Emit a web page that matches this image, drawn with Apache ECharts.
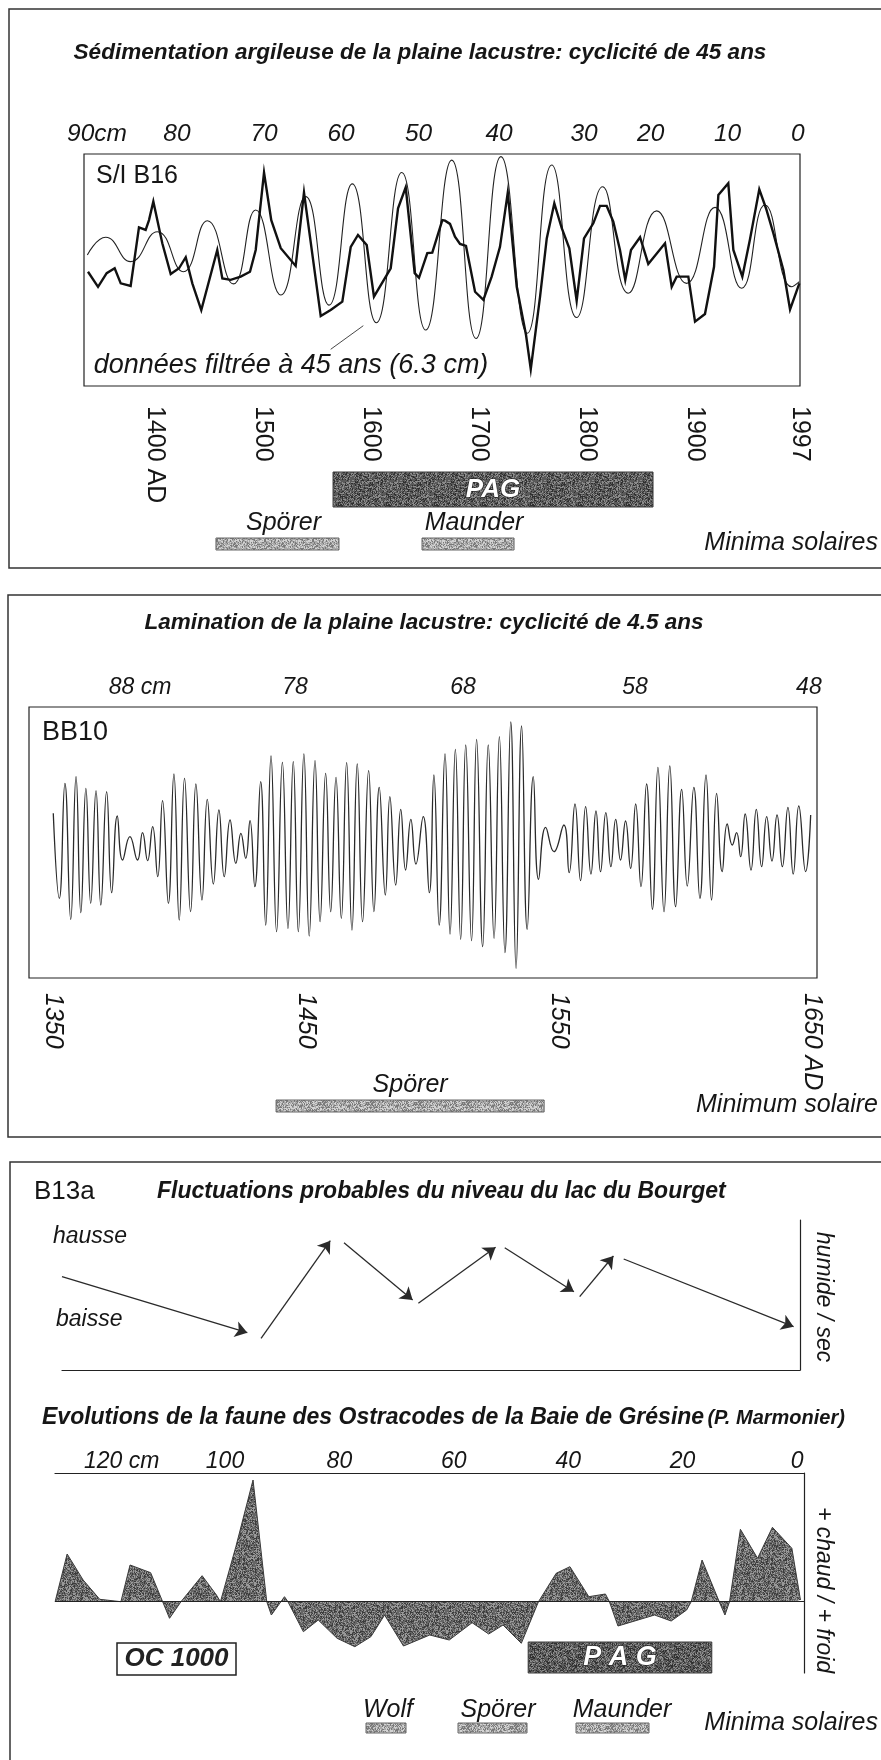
<!DOCTYPE html>
<html>
<head>
<meta charset="utf-8">
<script src="https://cdn.jsdelivr.net/npm/echarts@6/dist/echarts.min.js"></script>
<style>
  html, body { margin: 0; padding: 0; background: #fff; }
  #chart { width: 881px; height: 1760px; }
</style>
</head>
<body>
<div id="chart"></div>
<script>
// ---------- Panel 1 : S/I B16, clay sedimentation (years AD, standardised index) ----------
const b16Raw = [[1337.7,-0.06],[1347.0,-0.58],[1355.0,-0.11],[1362.4,0.06],[1368.0,-0.46],[1377.2,-0.55],[1384.9,1.47],[1391.1,1.38],[1394.2,1.72],[1398.2,2.36],[1406.5,0.92],[1414.3,-0.14],[1422.0,0.06],[1428.2,0.44],[1434.3,-0.46],[1442.6,-1.38],[1457.4,0.69],[1462.1,-0.29],[1469.8,-0.34],[1479.1,-0.23],[1487.7,-0.06],[1493.0,0.69],[1500.7,3.36],[1507.4,1.72],[1516.2,0.75],[1530.0,0.14],[1537.7,2.67],[1553.2,-1.59],[1562.4,-1.38],[1573.2,-1.09],[1581.0,0.80],[1587.7,1.21],[1595.8,0.86],[1602.5,-0.92],[1618.0,0.06],[1624.8,2.13],[1631.9,2.85],[1640.2,-0.11],[1644.2,-0.27],[1651.9,0.58],[1656.5,0.60],[1665.8,1.72],[1668.3,1.70],[1672.9,1.59],[1677.5,1.15],[1682.2,0.90],[1687.7,0.83],[1696.1,-0.75],[1703.8,-1.03],[1711.5,-0.23],[1719.2,0.80],[1726.4,2.67],[1734.7,-0.58],[1743.3,-2.24],[1747.7,-3.42],[1756.3,-0.92],[1762.5,1.09],[1769.5,2.30],[1776.4,1.44],[1783.4,0.75],[1790.2,-1.06],[1797.0,1.09],[1805.6,1.61],[1811.8,2.21],[1818.0,2.21],[1824.1,1.67],[1830.3,0.69],[1835.2,-0.34],[1840.5,0.69],[1848.9,1.13],[1856.5,0.21],[1872.0,0.92],[1878.2,-0.58],[1882.8,-0.23],[1893.6,-0.23],[1899.8,-1.78],[1909.0,-1.52],[1917.4,0.11],[1921.4,2.59],[1930.6,2.99],[1935.3,0.69],[1943.6,-0.23],[1950.7,1.06],[1959.3,2.78],[1965.5,2.13],[1972.3,1.27],[1981.6,0.00],[1987.8,-1.36],[1996.4,-0.46]];
// 45-year band-pass of the same record (turning points)
const b16Filtered = [[1337.1,0.52],[1354.1,1.13],[1377.2,0.29],[1401.9,1.32],[1425.9,-0.06],[1448.2,1.70],[1472.3,-0.48],[1493.0,2.07],[1516.2,-0.86],[1539.3,2.53],[1560.9,-1.21],[1582.4,2.97],[1604.7,-1.82],[1628.2,3.36],[1650.4,-2.07],[1674.5,3.79],[1697.0,-2.36],[1720.1,3.91],[1744.5,-2.18],[1767.1,3.62],[1790.2,-1.64],[1814.3,2.87],[1838.0,-0.80],[1864.3,2.04],[1892.0,-0.46],[1918.3,2.16],[1943.0,-0.63],[1964.6,2.24],[1989.3,-0.58],[1996.4,-0.40]];
const yearTicks1 = [1400, 1500, 1600, 1700, 1800, 1900, 1997];
const depthLabels1 = ['90cm', '80', '70', '60', '50', '40', '30', '20', '10', '0'];
const depthAges1 = [1346.0, 1420.1, 1500.7, 1572.0, 1643.8, 1718.3, 1797.0, 1858.7, 1929.9, 1995.0];
const pag1 = [1564.6, 1860.9];
const minima1 = [['Spörer', 1456.2, 1570.1], ['Maunder', 1647.0, 1732.2]];

// ---------- Panel 2 : BB10 lamination, 4.5-year band ----------
const bb10 = [[1350.0,2.67],[1352.4,-5.83],[1354.6,5.67],[1356.9,-7.93],[1359.0,6.33],[1360.9,-7.27],[1362.9,5.17],[1364.8,-6.33],[1366.9,4.93],[1368.8,-6.50],[1371.1,4.83],[1373.1,-5.27],[1375.3,2.40],[1377.4,-2.00],[1380.3,0.33],[1383.3,-2.00],[1385.3,0.73],[1387.3,-2.07],[1389.3,1.33],[1391.3,-3.67],[1393.2,3.93],[1395.5,-6.33],[1397.7,6.60],[1399.8,-8.00],[1401.9,6.17],[1404.3,-7.17],[1406.4,5.60],[1408.8,-6.00],[1410.9,4.07],[1413.3,-4.40],[1415.5,3.00],[1417.6,-3.67],[1419.9,2.00],[1422.2,-2.33],[1424.2,0.67],[1426.1,-1.83],[1427.8,1.93],[1429.7,-4.67],[1432.0,5.83],[1434.0,-8.50],[1436.1,8.40],[1438.3,-9.17],[1440.6,7.77],[1442.8,-8.83],[1444.9,7.83],[1446.9,-9.17],[1449.1,8.60],[1451.2,-9.60],[1453.5,7.93],[1455.5,-8.17],[1457.7,6.67],[1459.7,-7.17],[1461.8,6.27],[1463.9,-7.83],[1466.0,7.73],[1468.1,-9.00],[1470.2,7.60],[1472.3,-8.17],[1474.7,6.93],[1476.8,-7.17],[1478.9,5.27],[1481.3,-5.50],[1483.1,4.33],[1485.4,-4.50],[1487.4,3.07],[1489.3,-3.00],[1491.4,2.07],[1493.4,-2.40],[1496.3,2.33],[1498.7,-5.27],[1500.5,6.50],[1502.6,-8.50],[1504.9,8.60],[1506.9,-9.40],[1509.0,9.07],[1511.1,-9.93],[1513.1,9.50],[1515.4,-10.07],[1517.4,10.07],[1519.8,-10.67],[1522.0,9.50],[1524.3,-9.83],[1526.4,10.33],[1528.6,-11.27],[1530.9,11.80],[1533.0,-12.83],[1535.2,11.40],[1537.4,-8.93],[1539.8,6.33],[1541.9,-3.93],[1544.7,1.27],[1548.0,-1.17],[1551.9,1.50],[1554.0,-3.27],[1556.3,3.60],[1558.5,-4.07],[1560.5,3.33],[1562.6,-3.40],[1564.6,2.90],[1566.4,-3.17],[1568.5,2.73],[1570.5,-2.67],[1572.4,2.07],[1574.3,-2.00],[1576.3,1.90],[1578.3,-2.83],[1580.3,3.60],[1582.4,-4.67],[1584.6,5.60],[1586.9,-6.93],[1589.1,7.27],[1591.5,-7.17],[1593.8,7.40],[1596.1,-6.67],[1598.5,5.07],[1600.7,-4.60],[1603.3,5.27],[1605.7,-5.83],[1608.1,6.50],[1610.3,-6.00],[1612.3,4.67],[1614.5,-3.17],[1616.5,1.60],[1618.5,-0.50],[1620.2,0.73],[1621.8,-1.67],[1623.6,2.60],[1625.9,-3.00],[1628.0,3.07],[1630.1,-2.67],[1632.1,2.33],[1634.2,-2.10],[1636.2,2.50],[1638.3,-2.67],[1640.5,3.27],[1642.6,-3.40],[1644.8,3.40],[1647.5,-3.17],[1649.5,2.50]];
const yearTicks2 = [1350, 1450, 1550, 1650];
const depthLabels2 = ['88 cm', '78', '68', '58', '48'];
const depthAges2 = [1384.3, 1445.6, 1512.0, 1580.0, 1648.8];
const minima2 = [['Spörer', 1438.1, 1544.1]];

// ---------- Panel 3 : B13a, lake level and ostracod fauna (depth in cm) ----------
// each step: [depth from, level from, depth to, level to]
const lakeSteps = [[128.5,9.33,96.1,3.73],[93.7,3.17,81.6,12.93],[79.2,12.73,67.2,7.0],[66.2,6.67,52.7,12.27],[51.1,12.23,39.0,7.83],[38.0,7.33,32.1,11.4],[30.3,11.1,0.6,4.33]];
const ostracodes = [[129.7,0],[127.6,4.77],[124.8,2.17],[121.9,0.24],[118.2,0],[116.6,3.67],[113.0,2.90],[110.9,0],[109.7,-1.66],[107.7,0],[104.0,2.60],[101.5,0.67],[100.8,0],[98.1,5.50],[95.1,12.17],[92.7,0],[91.9,-1.33],[89.6,0.50],[89.0,0],[86.3,-3.00],[83.7,-1.83],[80.4,-3.66],[77.3,-4.50],[74.5,-3.50],[72.1,-1.33],[68.8,-4.43],[64.2,-3.33],[60.8,-3.83],[56.8,-2.10],[53.9,-3.23],[51.4,-2.33],[48.2,-4.16],[45.2,0],[42.1,2.84],[39.7,3.50],[36.4,0.50],[33.5,0.77],[32.8,0],[31.3,-2.43],[24.9,-1.33],[22.0,-1.93],[19.3,-0.83],[18.5,0],[16.6,4.17],[13.6,0],[12.6,-1.33],[11.8,0],[9.9,7.24],[6.9,4.34],[4.3,7.44],[0.9,5.34],[-0.6,0.17]];
const depthTicks3 = [120, 100, 80, 60, 40, 20, 0];
const pag3 = [47.0, 14.9];

// ---------- drawing ----------
const FF = "'Liberation Sans', Arial, sans-serif";
const INK = '#161616';

function frac(v) { return v - Math.floor(v); }
// small grain texture for the shaded bars and the area fill
function grain(base, lite, dark, pl, pd, seed) {
  const c = document.createElement('canvas');
  c.width = c.height = 48;
  const g = c.getContext('2d');
  g.fillStyle = base; g.fillRect(0, 0, 48, 48);
  for (let j = 0; j < 48; j++) for (let i = 0; i < 48; i++) {
    const h = frac(Math.sin(i * 127.1 + j * 311.7 + seed * 17.3) * 43758.5453);
    if (h < pl) { g.fillStyle = lite; g.fillRect(i, j, 1, 1); }
    else if (h > 1 - pd) { g.fillStyle = dark; g.fillRect(i, j, 1, 1); }
  }
  return { image: c, repeat: 'repeat' };
}
const darkGrain = grain('#5a5a5a', '#8c8c8c', '#303030', 0.28, 0.24, 1);
const lightGrain = grain('#a9a9a9', '#d2d2d2', '#7a7a7a', 0.3, 0.3, 2);
const areaGrain = grain('#666', '#999', '#3c3c3c', 0.28, 0.24, 3);

function pickLabel(list, ages) {
  return function (v) {
    for (let i = 0; i < ages.length; i++) if (Math.abs(ages[i] - v) < 1e-6) return list[i];
    return '';
  };
}

function hidden(gridIndex, min, max, extra) {
  return Object.assign({ type: 'value', gridIndex, min, max, show: false }, extra || {});
}

// shaded bar drawn over an x interval; optional caption inside or above
function barRenderer(fill, opts) {
  return function (params, api) {
    const a = api.coord([api.value(0), 0]);
    const b = api.coord([api.value(1), 0]);
    const cs = params.coordSys;
    const x0 = Math.min(a[0], b[0]);
    const w = Math.abs(b[0] - a[0]);
    const children = [{
      type: 'rect',
      shape: { x: x0, y: cs.y, width: w, height: cs.height },
      style: { fill: fill, stroke: opts.stroke, lineWidth: 1 }
    }];
    const name = opts.names ? opts.names[params.dataIndex] : opts.text;
    if (name) {
      children.push({
        type: 'text',
        style: {
          text: name,
          x: x0 + w / 2 + (opts.dx || 0),
          y: opts.inside ? cs.y + cs.height / 2 : cs.y - opts.above,
          align: 'center', verticalAlign: 'middle',
          textAlign: 'center', textVerticalAlign: 'middle',
          font: opts.font,
          fill: opts.color,
          stroke: opts.outline || null,
          lineWidth: opts.outline ? 1.2 : 0
        }
      });
    }
    return { type: 'group', children };
  };
}

const yearLabel = (size, italic) => ({
  rotate: -90, fontSize: size, fontFamily: FF, color: INK,
  fontStyle: italic ? 'italic' : 'normal'
});

function txt(x, y, text, font, align, extra) {
  return Object.assign({ type: 'text', x, y, style: {
    text, font, fill: INK, align: align, verticalAlign: 'middle',
    textAlign: align, textVerticalAlign: 'middle' } }, extra || {});
}

const option = {
  animation: false,
  backgroundColor: '#fff',
  grid: [
    { left: 84, top: 154, width: 716, height: 232, show: true, borderColor: '#222', borderWidth: 1.2, backgroundColor: 'transparent', outerBoundsMode: 'none' },
    { left: 84, top: 472, width: 716, height: 35, outerBoundsMode: 'none' },
    { left: 84, top: 538, width: 716, height: 12, outerBoundsMode: 'none' },
    { left: 29, top: 707, width: 788, height: 271, show: true, borderColor: '#222', borderWidth: 1.2, backgroundColor: 'transparent', outerBoundsMode: 'none' },
    { left: 29, top: 1100, width: 788, height: 12, outerBoundsMode: 'none' },
    { left: 62, top: 1220, width: 738, height: 150, outerBoundsMode: 'none' },
    { left: 55, top: 1473, width: 749, height: 200, outerBoundsMode: 'none' },
    { left: 55, top: 1642, width: 749, height: 31, outerBoundsMode: 'none' }
  ],
  xAxis: [
    { type: 'value', gridIndex: 0, min: 1334, max: 1997, position: 'bottom',
      axisLine: { show: false }, axisTick: { show: false }, splitLine: { show: false },
      axisLabel: Object.assign(yearLabel(25, false), {
        margin: 20, customValues: yearTicks1,
        formatter: v => (v === yearTicks1[0] ? v + ' AD' : String(v))
      }) },
    { type: 'value', gridIndex: 0, min: 1334, max: 1997, position: 'top',
      axisLine: { show: false }, axisTick: { show: false }, splitLine: { show: false },
      axisLabel: { margin: 7, fontSize: 24.5, fontStyle: 'italic', fontFamily: FF, color: INK,
        customValues: depthAges1, formatter: pickLabel(depthLabels1, depthAges1) } },
    hidden(1, 1334, 1997),
    hidden(2, 1334, 1997),
    { type: 'value', gridIndex: 3, min: 1340.4, max: 1652.0, position: 'bottom',
      axisLine: { show: false }, axisTick: { show: false }, splitLine: { show: false },
      axisLabel: Object.assign(yearLabel(25, true), {
        margin: 15, customValues: yearTicks2,
        formatter: v => (v === yearTicks2[yearTicks2.length - 1] ? v + ' AD' : String(v))
      }) },
    { type: 'value', gridIndex: 3, min: 1340.4, max: 1652.0, position: 'top',
      axisLine: { show: false }, axisTick: { show: false }, splitLine: { show: false },
      axisLabel: { margin: 8, fontSize: 23, fontStyle: 'italic', fontFamily: FF, color: INK,
        customValues: depthAges2, formatter: pickLabel(depthLabels2, depthAges2) } },
    hidden(4, 1340.4, 1652.0),
    { type: 'value', gridIndex: 5, min: -0.52, max: 128.5, inverse: true, position: 'bottom',
      axisLine: { show: true, onZero: false, lineStyle: { color: '#222', width: 1.2 } },
      axisTick: { show: false }, axisLabel: { show: false }, splitLine: { show: false } },
    { type: 'value', gridIndex: 6, min: -1.22, max: 129.72, inverse: true, position: 'top',
      axisLine: { show: true, onZero: false, lineStyle: { color: '#222', width: 1.2 } },
      axisTick: { show: false }, splitLine: { show: false },
      axisLabel: { margin: 0, fontSize: 23, fontStyle: 'italic', fontFamily: FF, color: INK,
        customValues: depthTicks3,
        formatter: v => (v === depthTicks3[0] ? '{u|' + v + ' cm}' : String(v)),
        rich: { u: { fontSize: 23, fontStyle: 'italic', fontFamily: FF, color: INK, padding: [0, 0, 0, 22] } } } },
    hidden(7, -1.22, 129.72, { inverse: true })
  ],
  yAxis: [
    hidden(0, -4, 4),
    hidden(1, 0, 1),
    hidden(2, 0, 1),
    hidden(3, -13.8, 13.3),
    hidden(4, 0, 1),
    { type: 'value', gridIndex: 5, min: 0, max: 15, position: 'right',
      axisLine: { show: true, onZero: false, lineStyle: { color: '#222', width: 1.2 } },
      axisTick: { show: false }, axisLabel: { show: false }, splitLine: { show: false } },
    { type: 'value', gridIndex: 6, min: -7.13, max: 12.87, position: 'right',
      axisLine: { show: true, onZero: false, lineStyle: { color: '#222', width: 1.2 } },
      axisTick: { show: false }, axisLabel: { show: false }, splitLine: { show: false } },
    hidden(7, 0, 1)
  ],
  series: [
    { type: 'line', name: 'filtré 45 ans', xAxisIndex: 0, yAxisIndex: 0, data: b16Filtered,
      smooth: 0.5, showSymbol: false, lineStyle: { color: '#222', width: 1.1 } },
    { type: 'line', name: 'S/I B16', xAxisIndex: 0, yAxisIndex: 0, data: b16Raw,
      showSymbol: false, lineStyle: { color: '#111', width: 2.4, join: 'miter' } },
    { type: 'custom', xAxisIndex: 2, yAxisIndex: 1, clip: false,
      encode: { x: [0, 1], y: 2 }, data: [[pag1[0], pag1[1], 0]],
      renderItem: barRenderer(darkGrain, { stroke: '#3a3a3a', text: 'PAG', inside: true,
        font: `italic bold 26px ${FF}`, color: '#fff', outline: '#222' }) },
    { type: 'custom', xAxisIndex: 3, yAxisIndex: 2, clip: false,
      encode: { x: [0, 1], y: 2 }, data: minima1.map(m => [m[1], m[2], 0]),
      renderItem: barRenderer(lightGrain, { stroke: '#666', names: minima1.map(m => m[0]),
        above: 15, dx: 6, font: `italic 25px ${FF}`, color: INK }) },
    { type: 'line', name: 'BB10', xAxisIndex: 4, yAxisIndex: 3, data: bb10,
      smooth: 0.5, showSymbol: false, lineStyle: { color: '#2a2a2a', width: 1.3 } },
    { type: 'custom', xAxisIndex: 6, yAxisIndex: 4, clip: false,
      encode: { x: [0, 1], y: 2 }, data: minima2.map(m => [m[1], m[2], 0]),
      renderItem: barRenderer(lightGrain, { stroke: '#666', names: minima2.map(m => m[0]),
        above: 15, dx: 0, font: `italic 25px ${FF}`, color: INK }) },
    { type: 'lines', coordinateSystem: 'cartesian2d', xAxisIndex: 7, yAxisIndex: 5,
      symbol: ['none', 'arrow'], symbolSize: 12,
      lineStyle: { color: '#2a2a2a', width: 1.3, opacity: 1, curveness: 0 },
      data: lakeSteps.map(s => ({ coords: [[s[0], s[1]], [s[2], s[3]]] })) },
    { type: 'line', name: 'Ostracodes', xAxisIndex: 8, yAxisIndex: 6, data: ostracodes,
      showSymbol: false, lineStyle: { color: '#3a3a3a', width: 1 },
      areaStyle: { color: areaGrain, opacity: 1, origin: 0 },
      markLine: { silent: true, symbol: ['none', 'none'], label: { show: false },
        lineStyle: { color: '#222', width: 1.2, type: 'solid' }, data: [{ yAxis: 0 }] } },
    { type: 'custom', xAxisIndex: 9, yAxisIndex: 7, clip: false,
      encode: { x: [0, 1], y: 2 }, data: [[pag3[0], pag3[1], 0]],
      renderItem: barRenderer(darkGrain, { stroke: '#3a3a3a', text: 'P A G', inside: true,
        font: `italic bold 27px ${FF}`, color: '#fff', outline: '#222' }) }
  ],
  graphic: [
    // panel frames
    { type: 'rect', shape: { x: 9, y: 9, width: 900, height: 559 }, style: { fill: null, stroke: '#333', lineWidth: 1.5 } },
    { type: 'rect', shape: { x: 8, y: 595, width: 900, height: 542 }, style: { fill: null, stroke: '#333', lineWidth: 1.5 } },
    { type: 'rect', shape: { x: 10, y: 1162, width: 900, height: 640 }, style: { fill: null, stroke: '#333', lineWidth: 1.5 } },
    // panel 1 texts
    txt(420, 53, 'Sédimentation argileuse de la plaine lacustre: cyclicité de 45 ans', `italic bold 22.5px ${FF}`, 'center'),
    txt(96, 176, 'S/I B16', `25px ${FF}`, 'left'),
    { type: 'line', shape: { x1: 330.7, y1: 349.3, x2: 363.3, y2: 325.7 }, style: { stroke: '#333', lineWidth: 0.9 } },
    txt(291, 365, 'données filtrée à 45 ans (6.3 cm)', `italic 27px ${FF}`, 'center'),
    txt(878, 543, 'Minima solaires', `italic 25px ${FF}`, 'right'),
    // panel 2 texts
    txt(424, 623, 'Lamination de la plaine lacustre: cyclicité de 4.5 ans', `italic bold 22.5px ${FF}`, 'center'),
    txt(42, 733, 'BB10', `27px ${FF}`, 'left'),
    txt(878, 1105, 'Minimum solaire', `italic 25px ${FF}`, 'right'),
    // panel 3 texts
    txt(34, 1192, 'B13a', `26px ${FF}`, 'left'),
    txt(157, 1192, 'Fluctuations probables du niveau du lac du Bourget', `italic bold 23px ${FF}`, 'left'),
    txt(53, 1237, 'hausse', `italic 23px ${FF}`, 'left'),
    txt(56, 1320, 'baisse', `italic 23px ${FF}`, 'left'),
    txt(823, 1297, 'humide / sec', `italic 23px ${FF}`, 'center', { rotation: -Math.PI / 2 }),
    { type: 'text', x: 42, y: 1418, style: {
      text: '{a|Evolutions de la faune des Ostracodes de la Baie de Grésine} {b|(P. Marmonier)}',
      rich: { a: { font: `italic bold 23px ${FF}`, fill: INK, color: INK }, b: { font: `italic bold 20px ${FF}`, fill: INK, color: INK } },
      fill: INK, align: 'left', verticalAlign: 'middle', textAlign: 'left', textVerticalAlign: 'middle' } },
    txt(823, 1590, '+ chaud / + froid', `italic 23px ${FF}`, 'center', { rotation: -Math.PI / 2 }),
    { type: 'rect', shape: { x: 117, y: 1643, width: 119, height: 32 }, style: { fill: '#fff', stroke: '#222', lineWidth: 1.5 } },
    { type: 'text', x: 176.5, y: 1659, style: { text: 'OC 1000', font: `italic bold 26px ${FF}`, fill: '#222', align: 'center', verticalAlign: 'middle', textAlign: 'center', textVerticalAlign: 'middle' } },
    // solar minima key
    txt(388, 1710, 'Wolf', `italic 25px ${FF}`, 'center'),
    { type: 'rect', shape: { x: 366, y: 1723, width: 40, height: 10 }, style: { fill: lightGrain, stroke: '#666', lineWidth: 1 } },
    txt(498, 1710, 'Spörer', `italic 25px ${FF}`, 'center'),
    { type: 'rect', shape: { x: 458, y: 1723, width: 69, height: 10 }, style: { fill: lightGrain, stroke: '#666', lineWidth: 1 } },
    txt(622, 1710, 'Maunder', `italic 25px ${FF}`, 'center'),
    { type: 'rect', shape: { x: 576, y: 1723, width: 73, height: 10 }, style: { fill: lightGrain, stroke: '#666', lineWidth: 1 } },
    txt(878, 1723, 'Minima solaires', `italic 25px ${FF}`, 'right')
  ]
};

const chart = echarts.init(document.getElementById('chart'), null, { renderer: 'canvas' });
chart.setOption(option);
</script>
</body>
</html>
